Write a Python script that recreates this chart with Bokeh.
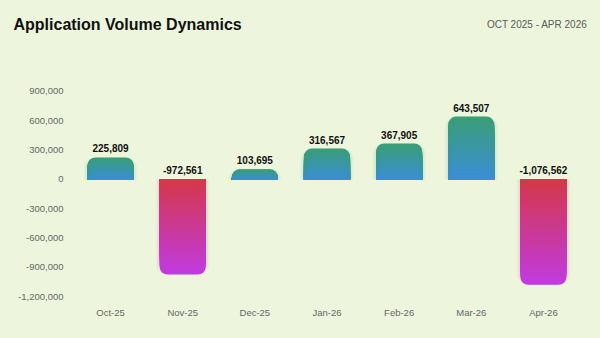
import numpy as np
from bokeh.plotting import figure
from bokeh.layouts import column
from bokeh.models import Range1d, FixedTicker, NumeralTickFormatter, Label, ColumnDataSource
from bokeh.core.properties import value
from bokeh.embed import file_html
from bokeh.resources import INLINE

# ---- data ----
months = ["Oct-25", "Nov-25", "Dec-25", "Jan-26", "Feb-26", "Mar-26", "Apr-26"]
volumes = [225809, -972561, 103695, 316567, 367905, 643507, -1076562]
y_ticks = [-1200000, -900000, -600000, -300000, 0, 300000, 600000, 900000]
title_text = "Application Volume Dynamics"
subtitle_text = "OCT 2025 - APR 2026"

# ---- style ----
BG = "#edf6dc"
POS_TOP, POS_BOT = "#3a9e76", "#3a8fd6"
NEG_TOP, NEG_BOT = "#d4384a", "#c13ae0"
BAR_W = 0.64
RADIUS = 8
N = 40
FONT = "Liberation Sans"

def mix(c1, c2, t):
    a = np.array([int(c1[i:i + 2], 16) for i in (1, 3, 5)])
    b = np.array([int(c2[i:i + 2], 16) for i in (1, 3, 5)])
    c = np.round(a + (b - a) * t).astype(int)
    return "#%02x%02x%02x" % tuple(c)

# ---- header figure (title + subtitle) ----
HEAD_H = 45
head = figure(width=600, height=HEAD_H, output_backend="svg", toolbar_location=None,
              x_range=Range1d(0, 600), y_range=Range1d(0, HEAD_H),
              x_axis_location=None, y_axis_location=None,
              min_border=0, min_border_left=0, min_border_right=0,
              min_border_top=0, min_border_bottom=0)
head.frame_align = False
head.grid.visible = False
head.outline_line_color = None
head.background_fill_color = BG
head.border_fill_color = BG
head.add_layout(Label(x=13, y=HEAD_H - 24, x_units="screen", y_units="screen",
                      text=title_text, text_font=FONT, text_font_style="bold",
                      text_font_size="16px", text_color="#111111",
                      text_baseline="middle", text_align="left"))
head.add_layout(Label(x=587, y=HEAD_H - 24, x_units="screen", y_units="screen",
                      text=subtitle_text, text_font=FONT,
                      text_font_size="10px", text_color="#5a5a5a",
                      text_baseline="middle", text_align="right"))

# ---- chart figure ----
p = figure(width=600, height=338 - HEAD_H, output_backend="svg", toolbar_location=None,
           x_range=Range1d(-0.5, len(months) - 0.5),
           y_range=Range1d(-1258000, 1268000),
           min_border_left=74, min_border_right=21, min_border_top=55 - HEAD_H,
           min_border_bottom=36)
p.frame_align = False
p.background_fill_color = BG
p.border_fill_color = BG
p.outline_line_color = None
p.grid.grid_line_color = None

p.xaxis.ticker = FixedTicker(ticks=list(range(len(months))))
p.xaxis.major_label_overrides = {i: m for i, m in enumerate(months)}
p.yaxis.ticker = FixedTicker(ticks=y_ticks)
p.yaxis.formatter = NumeralTickFormatter(format="0,0")
for ax in (p.xaxis, p.yaxis):
    ax.axis_line_color = None
    ax.major_tick_line_color = None
    ax.minor_tick_line_color = None
    ax.major_tick_in = 0
    ax.major_tick_out = 0
    ax.major_label_text_color = "#666666"
    ax.major_label_text_font = FONT
    ax.major_label_text_font_size = "9.5px"
p.xaxis.major_label_standoff = 4
p.yaxis.major_label_standoff = 11

xs = list(range(len(months)))

# soft glow behind bars
for i, v in enumerate(volumes):
    col = mix(POS_TOP, POS_BOT, 0.5) if v >= 0 else mix(NEG_TOP, NEG_BOT, 0.3)
    for dw, a in [(0.10, 0.05), (0.06, 0.07)]:
        if v >= 0:
            p.vbar(x=[xs[i]], bottom=[0], top=[v], width=BAR_W + dw, fill_color=col,
                   fill_alpha=a, line_color=None, border_radius=(RADIUS + 3, RADIUS + 3, 0, 0))
        else:
            p.vbar(x=[xs[i]], bottom=[v], top=[0], width=BAR_W + dw, fill_color=col,
                   fill_alpha=a, line_color=None, border_radius=(0, 0, RADIUS + 3, RADIUS + 3))

# gradient bars: nested bars shrinking toward the zero line
for i, v in enumerate(volumes):
    for k in range(N):
        frac = 1 - k / N
        if v >= 0:
            col = mix(POS_TOP, POS_BOT, k / (N - 1))
            p.vbar(x=[xs[i]], bottom=[0], top=[v * frac], width=BAR_W, fill_color=col,
                   line_color=None, border_radius=(RADIUS, RADIUS, 0, 0))
        else:
            col = mix(NEG_BOT, NEG_TOP, k / (N - 1))
            p.vbar(x=[xs[i]], bottom=[v * frac], top=[0], width=BAR_W, fill_color=col,
                   line_color=None, border_radius=(0, 0, RADIUS, RADIUS))

# value labels
src = ColumnDataSource(dict(x=xs, y=[max(v, 0) for v in volumes],
                            t=[f"{v:,}" for v in volumes]))
p.text(x="x", y="y", text="t", source=src, y_offset=-5,
       text_align="center", text_baseline="bottom",
       text_font=value(FONT), text_font_style="bold",
       text_font_size="10px", text_color="#111111")

layout = column(head, p, spacing=0)
layout.styles = {"background-color": BG}
open("out.html", "w").write(file_html(layout, INLINE))
